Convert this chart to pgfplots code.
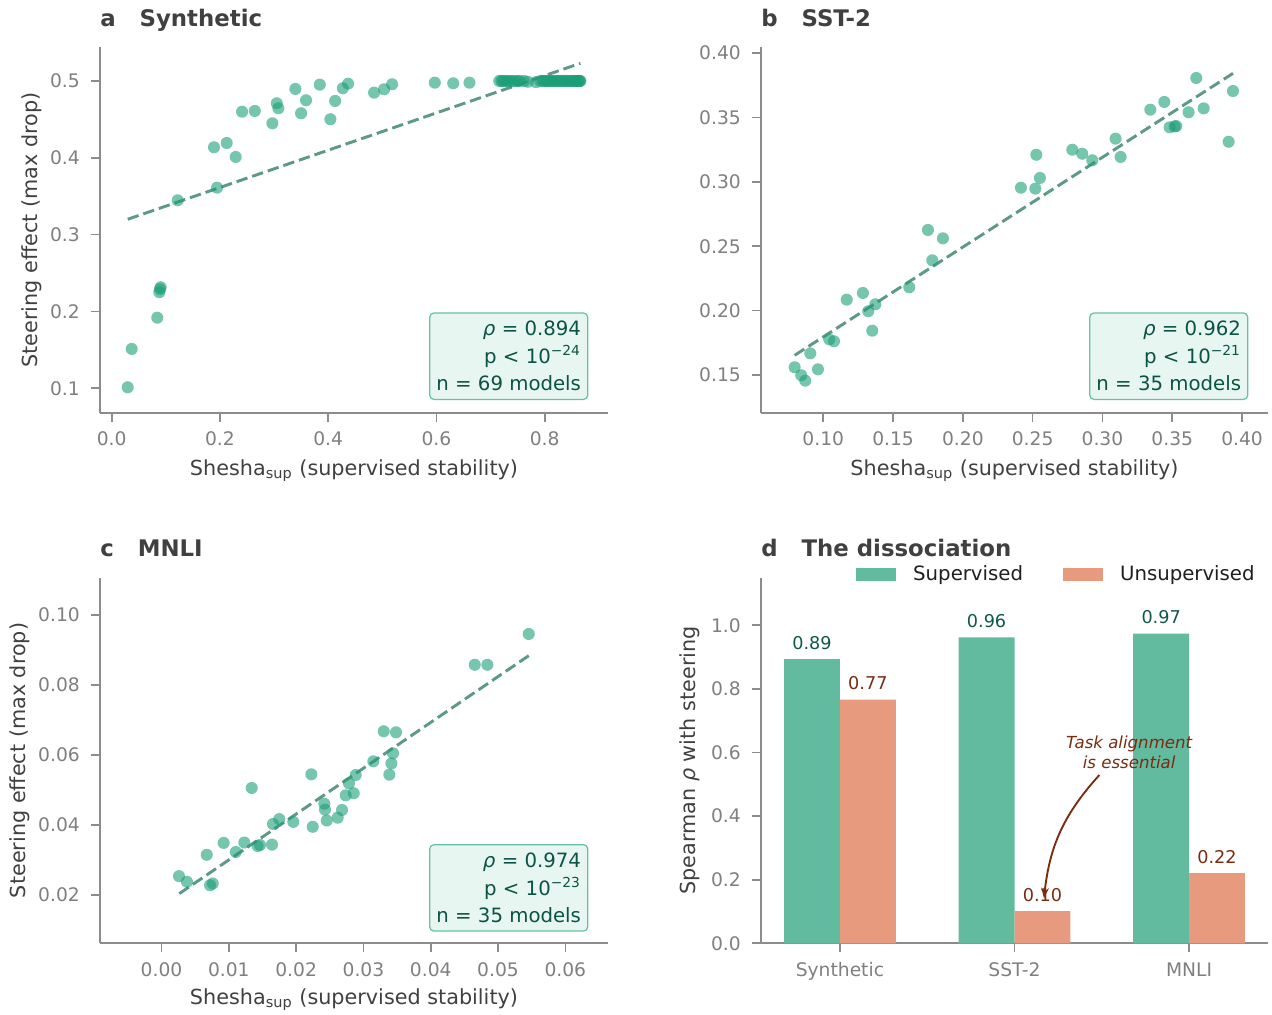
\documentclass[border=0pt]{standalone}
\usepackage{fontspec}
\setmainfont{DejaVu Sans}
\usepackage{pgfplots}
\pgfplotsset{compat=1.18}
\usetikzlibrary{arrows.meta}
\pgfkeys{/pgf/number format/assume math mode=true}

\definecolor{ptgreen}{HTML}{1B9E77}
\definecolor{trend}{HTML}{5E9886}
\definecolor{spine}{HTML}{8C8C8C}
\definecolor{tickc}{HTML}{7F7F7F}
\definecolor{labc}{HTML}{404040}
\definecolor{titc}{HTML}{404040}
\definecolor{statc}{HTML}{0B5345}
\definecolor{boxfill}{HTML}{E8F6F1}
\definecolor{boxedge}{HTML}{66C2A5}
\definecolor{barg}{HTML}{62BB9E}
\definecolor{bars}{HTML}{E89A7F}
\definecolor{valg}{HTML}{0E5A47}
\definecolor{valb}{HTML}{7B2B10}

\pgfplotsset{
 panel/.style={
  scale only axis, width=243.84bp, height=175.56bp, anchor=south west,
  axis x line*=bottom, axis y line*=left,
  axis line style={draw=spine, line width=0.8bp},
  tick align=outside, major tick length=4.3bp,
  every tick/.style={draw=spine, line width=0.8bp},
  tick label style={font=\fontsize{9}{10}\selectfont, text=tickc},
  xticklabel style={anchor=base, inner sep=0pt, yshift=-11.4bp},
  yticklabel style={anchor=east, inner sep=0pt, xshift=-5.2bp},
  label style={font=\fontsize{10}{12}\selectfont, text=labc},
  xlabel style={anchor=base, inner sep=0pt},
  ylabel style={anchor=base, inner sep=0pt},
  scaled ticks=false,
  clip=false,
 },
 pts/.style={only marks, mark=*, mark size=2.9bp, color=ptgreen, mark options={fill=ptgreen, fill opacity=0.6, draw opacity=0}},
 fit/.style={trend, line width=1.4bp, dash pattern=on 5.5bp off 2.4bp, no marks},
}
\tikzset{statbox/.style={draw=boxedge, fill=boxfill, rounded corners=2bp, line width=0.6bp,
  align=right, inner xsep=3.2bp, inner ysep=4bp, font=\fontsize{9.5}{13.2}\selectfont, text=statc, anchor=south east},
  ptitle/.style={anchor=base west, inner sep=0pt, font=\fontsize{11}{13}\selectfont\bfseries, text=titc}}

\begin{document}
\begin{tikzpicture}
\path[use as bounding box] (0,0) rectangle (610.56bp,487.2bp);

% ---------------- a
\begin{axis}[panel, at={(48bp,289.1bp)},
 xmin=-0.0216, xmax=0.917, ymin=0.0682, ymax=0.5443,
 xtick={0,0.2,0.4,0.6,0.8}, ytick={0.1,0.2,0.3,0.4,0.5},
 x tick label style={/pgf/number format/fixed, /pgf/number format/fixed zerofill, /pgf/number format/precision=1},
 y tick label style={/pgf/number format/fixed, /pgf/number format/fixed zerofill, /pgf/number format/precision=1},
 xlabel={Shesha\textsubscript{sup} (supervised stability)},
 ylabel={Steering effect (max drop)},
 xlabel style={at={(axis description cs:0.5,-0.1716)}},
 ylabel style={at={(axis description cs:-0.123,0.5)}},
]
\addplot[pts] table {
x y
0.0296 0.1013
0.0370 0.1512
0.0842 0.1919
0.0880 0.2250
0.0905 0.2315
0.0892 0.2290
0.1220 0.3447
0.1946 0.3611
0.1890 0.4137
0.2125 0.4193
0.2291 0.4011
0.2409 0.4600
0.2644 0.4610
0.2969 0.4449
0.3050 0.4710
0.3080 0.4645
0.3394 0.4896
0.3591 0.4749
0.3499 0.4580
0.3845 0.4952
0.4041 0.4502
0.4128 0.4740
0.4270 0.4905
0.4368 0.4965
0.4848 0.4848
0.5033 0.4892
0.5181 0.4957
0.5970 0.4978
0.6310 0.4970
0.6610 0.4978
0.7690 0.4990
0.7840 0.4985
0.7160 0.5
0.7200 0.5
0.7230 0.5
0.7270 0.5
0.7310 0.5
0.7350 0.5
0.7400 0.5
0.7450 0.5
0.7500 0.5
0.7540 0.5
0.7620 0.5
0.7920 0.5
0.7970 0.5
0.8000 0.5
0.8030 0.5
0.8060 0.5
0.8100 0.5
0.8130 0.5
0.8160 0.5
0.8200 0.5
0.8230 0.5
0.8260 0.5
0.8300 0.5
0.8330 0.5
0.8360 0.5
0.8390 0.5
0.8420 0.5
0.8450 0.5
0.8480 0.5
0.8510 0.5
0.8540 0.5
0.8570 0.5
0.8590 0.5
0.8610 0.5
0.8630 0.5
0.8650 0.5
0.8660 0.5
};
\addplot[fit] coordinates {(0.0296,0.320) (0.866,0.523)};
\node[statbox] at (rel axis cs:0.9612,0.0347) {\textit{ρ} = 0.894\\p < 10\textsuperscript{−24}\\n = 69 models};
\end{axis}

% ---------------- b
\begin{axis}[panel, at={(365.28bp,289.1bp)}, width=243.36bp,
 xmin=0.0554, xmax=0.4186, ymin=0.12073, ymax=0.4047,
 xtick={0.10,0.15,0.20,0.25,0.30,0.35,0.40}, ytick={0.15,0.20,0.25,0.30,0.35,0.40},
 x tick label style={/pgf/number format/fixed, /pgf/number format/fixed zerofill, /pgf/number format/precision=2},
 y tick label style={/pgf/number format/fixed, /pgf/number format/fixed zerofill, /pgf/number format/precision=2},
 xlabel={Shesha\textsubscript{sup} (supervised stability)},
 xlabel style={at={(axis description cs:0.5,-0.1716)}},
]
\addplot[pts] table {
x y
0.0795 0.1560
0.0842 0.1498
0.0871 0.1456
0.0907 0.1668
0.0962 0.1544
0.1043 0.1777
0.1077 0.1762
0.1168 0.2085
0.1284 0.2137
0.1322 0.1995
0.1373 0.2049
0.1351 0.1844
0.1616 0.2181
0.1750 0.2626
0.1857 0.2561
0.1781 0.2390
0.2416 0.2954
0.2519 0.2947
0.2526 0.3210
0.2552 0.3030
0.2784 0.3249
0.2855 0.3218
0.2927 0.3167
0.3094 0.3335
0.3130 0.3193
0.3343 0.3560
0.3443 0.3620
0.3481 0.3423
0.3529 0.3433
0.3517 0.3430
0.3617 0.3540
0.3672 0.3806
0.3725 0.3570
0.3904 0.3311
0.3935 0.3705
};
\addplot[fit] coordinates {(0.0795,0.1653) (0.3935,0.3842)};
\node[statbox] at (rel axis cs:0.9612,0.0347) {\textit{ρ} = 0.962\\p < 10\textsuperscript{−21}\\n = 35 models};
\end{axis}

% ---------------- c
\begin{axis}[panel, at={(48bp,34.42bp)},
 xmin=-0.00914, xmax=0.06634, ymin=0.00611, ymax=0.11063,
 xtick={0,0.01,0.02,0.03,0.04,0.05,0.06}, ytick={0.02,0.04,0.06,0.08,0.10},
 x tick label style={/pgf/number format/fixed, /pgf/number format/fixed zerofill, /pgf/number format/precision=2},
 y tick label style={/pgf/number format/fixed, /pgf/number format/fixed zerofill, /pgf/number format/precision=2},
 xlabel={Shesha\textsubscript{sup} (supervised stability)},
 ylabel={Steering effect (max drop)},
 xlabel style={at={(axis description cs:0.5,-0.1673)}},
 ylabel style={at={(axis description cs:-0.147,0.5)}},
]
\addplot[pts] table {
x y
0.00260 0.0253
0.00379 0.0237
0.00672 0.0314
0.00721 0.0227
0.00761 0.0232
0.00924 0.0348
0.01103 0.0322
0.01230 0.0349
0.01340 0.0505
0.01429 0.0339
0.01464 0.0342
0.01642 0.0343
0.01657 0.0402
0.01750 0.0416
0.01958 0.0408
0.02226 0.0544
0.02247 0.0394
0.02419 0.0460
0.02429 0.0443
0.02455 0.0412
0.02618 0.0420
0.02682 0.0442
0.02737 0.0484
0.02786 0.0518
0.02856 0.0490
0.02886 0.0542
0.03147 0.0581
0.03302 0.0667
0.03385 0.0543
0.03415 0.0575
0.03440 0.0604
0.03484 0.0664
0.04654 0.0857
0.04841 0.0857
0.05456 0.0945
};
\addplot[fit] coordinates {(0.00264,0.0203) (0.05456,0.0883)};
\node[statbox] at (rel axis cs:0.9612,0.0317) {\textit{ρ} = 0.974\\p < 10\textsuperscript{−23}\\n = 35 models};
\end{axis}

% ---------------- d
\begin{axis}[panel, at={(365.28bp,34.42bp)}, width=243.36bp,
 ybar, bar width=0.32,
 xmin=-0.452, xmax=2.452, ymin=0, ymax=1.1503,
 xtick={0,1,2}, xticklabels={Synthetic,SST-2,MNLI},
 ytick={0,0.2,0.4,0.6,0.8,1.0},
 y tick label style={/pgf/number format/fixed, /pgf/number format/fixed zerofill, /pgf/number format/precision=1},
 ylabel={Spearman \textit{ρ} with steering},
 ylabel style={at={(axis description cs:-0.1297,0.5)}},
 legend columns=2,
 legend style={draw=none, fill=none, inner sep=0pt, at={(axis description cs:0.186,1.008)}, anchor=west,
   font=\fontsize{9.5}{11}\selectfont, text=black!88,
   /tikz/every odd column/.append style={column sep=6.4bp},
   /tikz/every even column/.append style={column sep=17bp}},
 legend image code/.code={\fill[#1] (0bp,-3.2bp) rectangle (19.2bp,3.2bp);},
 nodes near coords={\pgfmathprintnumber[fixed,fixed zerofill,precision=2]{\pgfplotspointmeta}},
]
\addplot[fill=barg, draw=none, bar shift=-0.16,
  every node near coord/.append style={anchor=base, inner sep=0pt, yshift=4.7bp, font=\fontsize{8.5}{10}\selectfont, text=valg}]
  coordinates {(0,0.894) (1,0.962) (2,0.974)};
\addplot[fill=bars, draw=none, bar shift=0.16,
  every node near coord/.append style={anchor=base, inner sep=0pt, yshift=4.7bp, font=\fontsize{8.5}{10}\selectfont, text=valb}]
  coordinates {(0,0.766) (1,0.101) (2,0.221)};
\legend{Supervised, Unsupervised}
\end{axis}

\node[font=\fontsize{8}{9.6}\selectfont\itshape, text=valb, align=center] at (542.0bp,125.9bp) {Task alignment\\is essential};
\draw[valb, line width=0.9bp, -{Stealth[length=5bp,width=3.6bp]}] (527.7bp,115.2bp) to[bend right=18] (501.1bp,56.0bp);

\node[ptitle] at (48bp,474.7bp) {a\ \ \ Synthetic};
\node[ptitle] at (365.28bp,474.7bp) {b\ \ \ SST-2};
\node[ptitle] at (48bp,219.98bp) {c\ \ \ MNLI};
\node[ptitle] at (365.28bp,219.98bp) {d\ \ \ The dissociation};
\end{tikzpicture}
\end{document}
